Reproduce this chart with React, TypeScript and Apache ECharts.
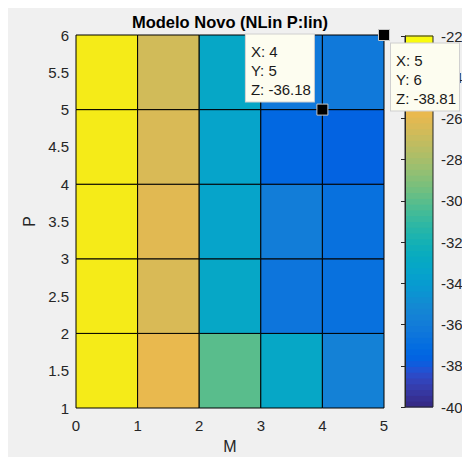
import React, { useEffect, useRef } from "react";
import * as echarts from "echarts";

// Grid edges (M along x, P along y)
const xEdges = [0, 1, 2, 3, 4, 5];
const yEdges = [1, 2, 3, 4, 5, 6];

// Cell values, rows from bottom (P 1-2) to top (P 5-6), columns M 0-1 .. 4-5
const rowP1 = [-22.7, -25.8, -30.0, -33.0, -35.6];
const rowP2 = [-22.7, -26.5, -33.1, -36.4, -36.9];
const rowP3 = [-22.7, -26.1, -33.3, -35.8, -36.9];
const rowP4 = [-22.7, -26.5, -33.3, -37.3, -37.6];
const rowP5 = [-22.7, -26.6, -33.2, -36.3, -36.18];
const cellRows = [rowP1, rowP2, rowP3, rowP4, rowP5];

// Data tips
const tipPoints = [
  [4, 5, -36.18],
  [5, 6, -38.81],
];

// Colour limits and colorbar ticks
const cMin = -40;
const cMax = -22;
const cInterval = 2;

const titleText = "Modelo Novo (NLin P:lin)";
const xName = "M";
const yName = "P";

// MATLAB parula (R2014b), 64 entries
const parula: number[][] = [
  [0.2081, 0.1663, 0.5292], [0.2116, 0.1898, 0.5777], [0.2123, 0.2138, 0.627], [0.2081, 0.2386, 0.6771],
  [0.1959, 0.2645, 0.7279], [0.1707, 0.2919, 0.7792], [0.1253, 0.3242, 0.8303], [0.0591, 0.3598, 0.8683],
  [0.0117, 0.3875, 0.882], [0.006, 0.4086, 0.8828], [0.0165, 0.4266, 0.8786], [0.0329, 0.443, 0.872],
  [0.0498, 0.4586, 0.8641], [0.0629, 0.4737, 0.8554], [0.0723, 0.4887, 0.8467], [0.0779, 0.504, 0.8384],
  [0.0793, 0.52, 0.8312], [0.0749, 0.5375, 0.8263], [0.0641, 0.557, 0.824], [0.0488, 0.5772, 0.8228],
  [0.0343, 0.5966, 0.8199], [0.0265, 0.6137, 0.8135], [0.0239, 0.6287, 0.8038], [0.0231, 0.6418, 0.7913],
  [0.0228, 0.6535, 0.7768], [0.0267, 0.6642, 0.7607], [0.0384, 0.6743, 0.7436], [0.059, 0.6838, 0.7254],
  [0.0843, 0.6928, 0.7062], [0.1133, 0.7015, 0.6859], [0.1453, 0.7098, 0.6646], [0.1801, 0.7177, 0.6424],
  [0.2178, 0.725, 0.6193], [0.2586, 0.7317, 0.5954], [0.3022, 0.7376, 0.5712], [0.3482, 0.7424, 0.5473],
  [0.3953, 0.7459, 0.5244], [0.442, 0.7481, 0.5033], [0.4871, 0.7491, 0.484], [0.53, 0.7491, 0.4661],
  [0.5709, 0.7485, 0.4494], [0.6099, 0.7473, 0.4337], [0.6473, 0.7456, 0.4188], [0.6834, 0.7435, 0.4044],
  [0.7184, 0.7411, 0.3905], [0.7525, 0.7384, 0.3768], [0.7858, 0.7356, 0.3633], [0.8185, 0.7327, 0.3498],
  [0.8507, 0.7299, 0.336], [0.8824, 0.7274, 0.3217], [0.9139, 0.7258, 0.3063], [0.945, 0.7261, 0.2886],
  [0.9739, 0.7314, 0.2666], [0.9938, 0.7455, 0.2403], [0.999, 0.7653, 0.2164], [0.9955, 0.7861, 0.1967],
  [0.988, 0.8066, 0.1794], [0.9789, 0.8271, 0.1633], [0.9697, 0.8481, 0.1475], [0.9626, 0.8705, 0.1309],
  [0.9589, 0.8949, 0.1132], [0.9598, 0.9218, 0.0948], [0.9661, 0.9514, 0.0755], [0.9763, 0.9831, 0.0538],
];

const toHex = (c: number[]) =>
  "#" + c.map((v) => Math.round(v * 255).toString(16).padStart(2, "0")).join("");
const cmap = parula.map(toHex);
const colorFor = (z: number) => {
  const n = cmap.length;
  const i = Math.min(n - 1, Math.max(0, Math.floor(((z - cMin) / (cMax - cMin)) * n)));
  return cmap[i];
};

const FONT = '"Liberation Sans", Arial, Helvetica, sans-serif';
const TXT = "#262626";

export default function App() {
  const ref = useRef<HTMLDivElement>(null);
  useEffect(() => {
    if (!ref.current) return;
    const chart = echarts.init(ref.current, undefined, { renderer: "svg" });

    const cellData: number[][] = [];
    cellRows.forEach((row, r) =>
      row.forEach((z, c) => cellData.push([xEdges[c], yEdges[r], xEdges[c + 1], yEdges[r + 1], z]))
    );
    const barData = cmap.map((_, i) => [i]);
    const step = (cMax - cMin) / cmap.length;

    chart.setOption({
      animation: false,
      backgroundColor: "#f0f0f0",
      textStyle: { fontFamily: FONT },
      graphic: [
        {
          type: "text",
          x: 222,
          y: 14,
          style: {
            text: titleText,
            fontFamily: FONT,
            fontWeight: "bold",
            fontSize: 16.5,
            fill: "#000",
            align: "center",
            verticalAlign: "middle",
          },
        },
      ],
      grid: [
        { left: 68, top: 27, width: 308, height: 373, outerBoundsMode: "none", containLabel: false },
        { left: 397, top: 28, width: 28, height: 371, outerBoundsMode: "none", containLabel: false },
      ],
      xAxis: [
        {
          gridIndex: 0,
          type: "value",
          min: 0,
          max: 5,
          interval: 1,
          name: xName,
          nameLocation: "middle",
          nameGap: 30,
          nameTextStyle: { color: TXT, fontSize: 16, fontFamily: FONT },
          axisLine: { show: false },
          axisTick: { show: false },
          splitLine: { show: false },
          axisLabel: { color: TXT, fontSize: 15, fontFamily: FONT, margin: 10 },
        },
        {
          gridIndex: 1,
          type: "value",
          min: 0,
          max: 1,
          show: false,
        },
      ],
      yAxis: [
        {
          gridIndex: 0,
          type: "value",
          min: 1,
          max: 6,
          interval: 0.5,
          name: yName,
          nameLocation: "middle",
          nameGap: 37,
          nameTextStyle: { color: TXT, fontSize: 16, fontFamily: FONT },
          axisLine: { show: false },
          axisTick: { show: false },
          splitLine: { show: false },
          axisLabel: { color: TXT, fontSize: 15, fontFamily: FONT, margin: 7 },
        },
        {
          gridIndex: 1,
          type: "value",
          position: "right",
          min: cMin,
          max: cMax,
          interval: cInterval,
          z: 10,
          axisLine: { show: true, lineStyle: { color: TXT, width: 1 } },
          axisTick: { show: true, inside: true, length: 4, lineStyle: { color: TXT } },
          splitLine: { show: false },
          axisLabel: { color: TXT, fontSize: 15, fontFamily: FONT, margin: 8 },
        },
      ],
      series: [
        {
          type: "custom",
          xAxisIndex: 0,
          yAxisIndex: 0,
          data: cellData,
          encode: { x: [0, 2], y: [1, 3] },
          renderItem: (_p: any, api: any) => {
            const a = api.coord([api.value(0), api.value(1)]);
            const b = api.coord([api.value(2), api.value(3)]);
            return {
              type: "rect",
              shape: { x: a[0], y: b[1], width: b[0] - a[0], height: a[1] - b[1] },
              style: { fill: colorFor(api.value(4)), stroke: "#000", lineWidth: 1 },
            };
          },
        },
        {
          type: "custom",
          xAxisIndex: 1,
          yAxisIndex: 1,
          data: barData,
          renderItem: (_p: any, api: any) => {
            const i = api.value(0);
            const a = api.coord([0, cMin + i * step]);
            const b = api.coord([1, cMin + (i + 1) * step]);
            return {
              type: "rect",
              shape: { x: a[0], y: b[1] - 0.5, width: b[0] - a[0], height: a[1] - b[1] + 1 },
              style: { fill: cmap[i], stroke: null },
            };
          },
        },
        {
          type: "custom",
          xAxisIndex: 1,
          yAxisIndex: 1,
          data: [[0]],
          z: 5,
          renderItem: (_p: any, api: any) => {
            const a = api.coord([0, cMin]);
            const b = api.coord([1, cMax]);
            return {
              type: "rect",
              shape: { x: a[0], y: b[1], width: b[0] - a[0], height: a[1] - b[1] },
              style: { fill: "none", stroke: TXT, lineWidth: 1 },
            };
          },
        },
        {
          type: "scatter",
          xAxisIndex: 0,
          yAxisIndex: 0,
          z: 10,
          symbol: "rect",
          symbolSize: 11,
          itemStyle: { color: "#000", borderColor: "#c8c8c8", borderWidth: 1, opacity: 1 },
          data: tipPoints.map((p, i) => ({
            value: p,
            label: {
              show: true,
              position: i === 0 ? [-70.5, -69] : [13, 14.5],
              align: "left",
              verticalAlign: "top",
              formatter: () => `X: ${p[0]}\nY: ${p[1]}\nZ: ${p[2].toFixed(2)}`,
              backgroundColor: "#fdfdf0",
              borderColor: "#cfcfcf",
              borderWidth: 1,
              padding: [7, 3, 3, 5],
              lineHeight: 19,
              fontSize: 15,
              fontFamily: FONT,
              color: "#1a1a1a",
            },
          })),
        },
      ],
    });
    return () => chart.dispose();
  }, []);
  return <div ref={ref} style={{ width: 462, height: 449 }} />;
}
